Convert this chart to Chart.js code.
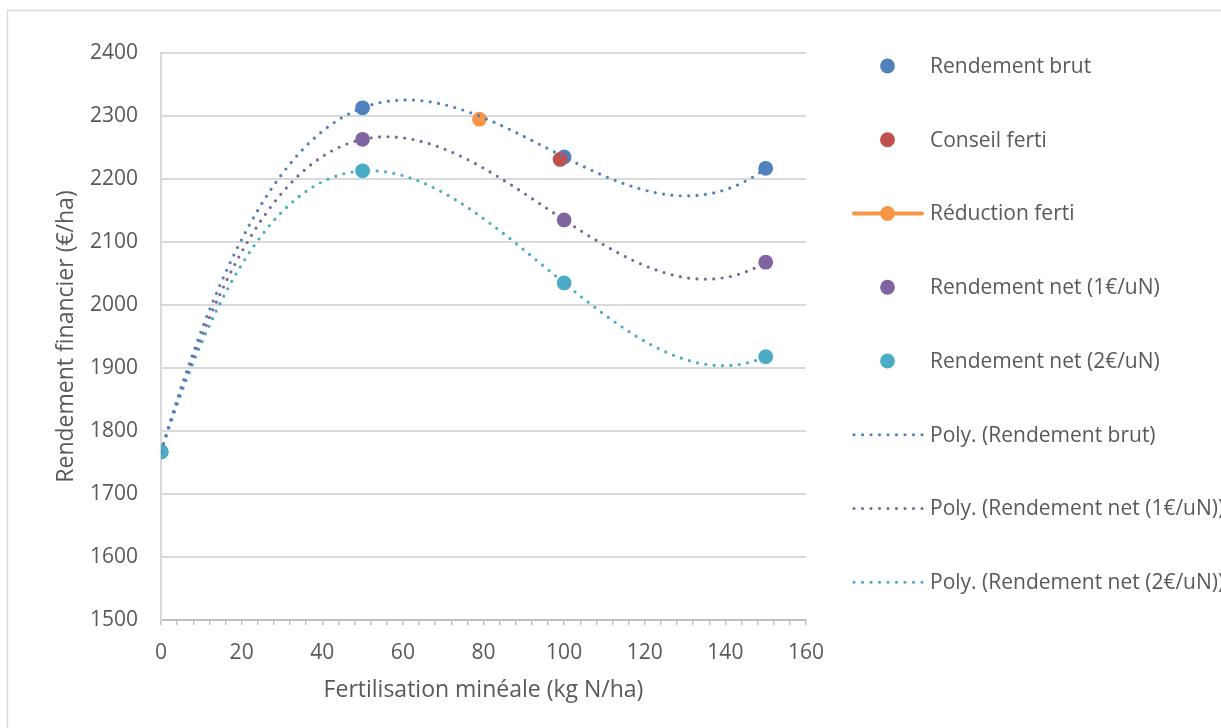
<!DOCTYPE html>
<html>
<head>
<meta charset="utf-8">
<script src="https://cdn.jsdelivr.net/npm/chart.js@4/dist/chart.umd.min.js"></script>
<style>
html,body{margin:0;padding:0;background:#fff;}
#wrap{width:1221px;height:728px;position:relative;}
</style>
</head>
<body>
<div id="wrap"><canvas id="c" width="1221" height="728"></canvas></div>
<script>
// ---- data ----
const nitrogenRates = [0, 50, 100, 150];
const rendementBrut = [1767, 2313, 2235, 2217];
const rendementNet1 = [1767, 2263, 2135, 2068];
const rendementNet2 = [1767, 2213, 2035, 1918];
const conseilFertiX = [99];
const conseilFertiY = [2231];
const reductionFertiX = [79];
const reductionFertiY = [2295];
const xTickLabels = [0, 20, 40, 60, 80, 100, 120, 140, 160];
const yTickLabels = [1500, 1600, 1700, 1800, 1900, 2000, 2100, 2200, 2300, 2400];
const seriesLabels = [
  'Rendement brut', 'Conseil ferti', 'Réduction ferti',
  'Rendement net (1€/uN)', 'Rendement net (2€/uN)',
  'Poly. (Rendement brut)', 'Poly. (Rendement net (1€/uN))', 'Poly. (Rendement net (2€/uN))'
];

const C_BLUE = '#4F81BD', C_RED = '#C0504D', C_ORANGE = '#F79646', C_PURPLE = '#8064A2', C_AQUA = '#4BACC6';
const FONT = '"Open Sans", "Noto Sans", sans-serif';
const TXT = '#595959';

function pts(xs, ys) { return xs.map((x, i) => ({x: x, y: ys[i]})); }

// Least-squares polynomial trendline (as the spreadsheet's "Poly." trendline, order 3)
function polyFit(xs, ys, deg) {
  const n = deg + 1;
  const A = [], b = [];
  for (let r = 0; r < n; r++) {
    A.push([]);
    for (let c = 0; c < n; c++) A[r].push(xs.reduce((s, x) => s + Math.pow(x, r + c), 0));
    b.push(xs.reduce((s, x, i) => s + ys[i] * Math.pow(x, r), 0));
  }
  for (let i = 0; i < n; i++) {
    let p = i;
    for (let k = i + 1; k < n; k++) if (Math.abs(A[k][i]) > Math.abs(A[p][i])) p = k;
    [A[i], A[p]] = [A[p], A[i]]; [b[i], b[p]] = [b[p], b[i]];
    for (let k = i + 1; k < n; k++) {
      const f = A[k][i] / A[i][i];
      for (let c = i; c < n; c++) A[k][c] -= f * A[i][c];
      b[k] -= f * b[i];
    }
  }
  const coef = new Array(n).fill(0);
  for (let i = n - 1; i >= 0; i--) {
    let s = b[i];
    for (let c = i + 1; c < n; c++) s -= A[i][c] * coef[c];
    coef[i] = s / A[i][i];
  }
  return coef;
}
function trend(xs, ys) {
  const coef = polyFit(xs, ys, 3);
  const out = [];
  const x0 = Math.min(...xs), x1 = Math.max(...xs);
  for (let x = x0; x <= x1 + 1e-9; x += 1) {
    out.push({x: x, y: coef.reduce((s, c, k) => s + c * Math.pow(x, k), 0)});
  }
  return out;
}

function markerSet(label, data, color, order) {
  return {label, data, type: 'scatter', showLine: false, order,
    pointRadius: 7.4, pointHoverRadius: 7.4, pointBackgroundColor: color, pointBorderColor: color,
    pointBorderWidth: 0, backgroundColor: color, borderColor: color, legendKind: 'marker'};
}
function trendSet(label, data, color) {
  return {label, data, type: 'scatter', showLine: true, order: 0,
    pointRadius: 0, pointHoverRadius: 0, borderColor: color, backgroundColor: color,
    borderWidth: 3.2, borderDash: [0, 8.4], borderCapStyle: 'round', tension: 0, legendKind: 'dots'};
}

const datasets = [
  markerSet(seriesLabels[0], pts(nitrogenRates, rendementBrut), C_BLUE, 5),
  markerSet(seriesLabels[1], pts(conseilFertiX, conseilFertiY), C_RED, 1),
  Object.assign(markerSet(seriesLabels[2], pts(reductionFertiX, reductionFertiY), C_ORANGE, 2),
    {showLine: true, borderWidth: 4, legendKind: 'linemarker'}),
  markerSet(seriesLabels[3], pts(nitrogenRates, rendementNet1), C_PURPLE, 4),
  markerSet(seriesLabels[4], pts(nitrogenRates, rendementNet2), C_AQUA, 3),
  trendSet(seriesLabels[5], trend(nitrogenRates, rendementBrut), C_BLUE),
  trendSet(seriesLabels[6], trend(nitrogenRates, rendementNet1), C_PURPLE),
  trendSet(seriesLabels[7], trend(nitrogenRates, rendementNet2), C_AQUA)
];

const frame = {
  id: 'frame',
  beforeDraw(chart) {
    const ctx = chart.ctx;
    ctx.save();
    ctx.fillStyle = '#fff';
    ctx.fillRect(0, 0, chart.width, chart.height);
    ctx.strokeStyle = '#d9d9d9';
    ctx.lineWidth = 1.5;
    ctx.beginPath();
    ctx.moveTo(7.5, chart.height + 2);
    ctx.lineTo(7.5, 10.5);
    ctx.lineTo(chart.width + 2, 10.5);
    ctx.stroke();
    ctx.restore();
  }
};

const sideLegend = {
  id: 'sideLegend',
  afterDraw(chart) {
    const ctx = chart.ctx;
    ctx.save();
    chart.data.datasets.forEach((d, i) => {
      const y = 66 + i * 73.75;
      const mx = 887.5;
      ctx.setLineDash([]);
      if (d.legendKind === 'linemarker') {
        ctx.strokeStyle = d.borderColor; ctx.lineWidth = 4; ctx.lineCap = 'round';
        ctx.beginPath(); ctx.moveTo(854, y); ctx.lineTo(922, y); ctx.stroke();
      }
      if (d.legendKind === 'dots') {
        ctx.strokeStyle = d.borderColor; ctx.lineWidth = 3.2; ctx.lineCap = 'round';
        ctx.setLineDash([0, 8.5]);
        ctx.beginPath(); ctx.moveTo(854, y); ctx.lineTo(923, y); ctx.stroke();
        ctx.setLineDash([]);
      }
      if (d.legendKind === 'marker' || d.legendKind === 'linemarker') {
        ctx.fillStyle = d.pointBackgroundColor;
        ctx.beginPath(); ctx.arc(mx, y, 7.4, 0, Math.PI * 2); ctx.fill();
      }
      ctx.fillStyle = TXT;
      ctx.font = '21px ' + FONT;
      ctx.textBaseline = 'middle';
      ctx.textAlign = 'left';
      ctx.fillText(d.label, 930, y + 1);
    });
    ctx.restore();
  }
};

new Chart(document.getElementById('c'), {
  type: 'scatter',
  data: {datasets},
  options: {
    responsive: false,
    animation: false,
    devicePixelRatio: 1,
    layout: {padding: {left: 0, top: 53, right: 415, bottom: 0}},
    plugins: {legend: {display: false}, tooltip: {enabled: false}},
    scales: {
      x: {
        type: 'linear', min: 0, max: 160,
        afterFit: (s) => { s.height = 108; },
        ticks: {
          stepSize: 4, autoSkip: false, maxRotation: 0, padding: 15,
          color: TXT, font: {family: FONT, size: 21},
          callback: (v) => xTickLabels.includes(v) ? String(v) : ''
        },
        grid: {drawOnChartArea: false, drawTicks: true, tickLength: 5, color: '#bfbfbf', lineWidth: 1.5},
        border: {display: true, color: '#bfbfbf', width: 2},
        title: {display: true, text: 'Fertilisation minéale (kg N/ha)', color: TXT,
          font: {family: FONT, size: 23}, padding: {top: 0, bottom: 24}}
      },
      y: {
        type: 'linear', min: 1500, max: 2400,
        afterFit: (s) => { s.width = 161; },
        afterBuildTicks: (s) => { s.ticks = yTickLabels.map(v => ({value: v})); },
        ticks: {padding: 23, color: TXT, font: {family: FONT, size: 21},
          callback: (v) => String(v)},
        grid: {color: '#d9d9d9', lineWidth: 2, drawTicks: false},
        border: {display: true, color: '#d9d9d9', width: 2},
        title: {display: true, text: 'Rendement financier (€/ha)', color: TXT,
          font: {family: FONT, size: 23}, padding: {top: 53, bottom: 0}}
      }
    }
  },
  plugins: [frame, sideLegend]
});
</script>
</body>
</html>
